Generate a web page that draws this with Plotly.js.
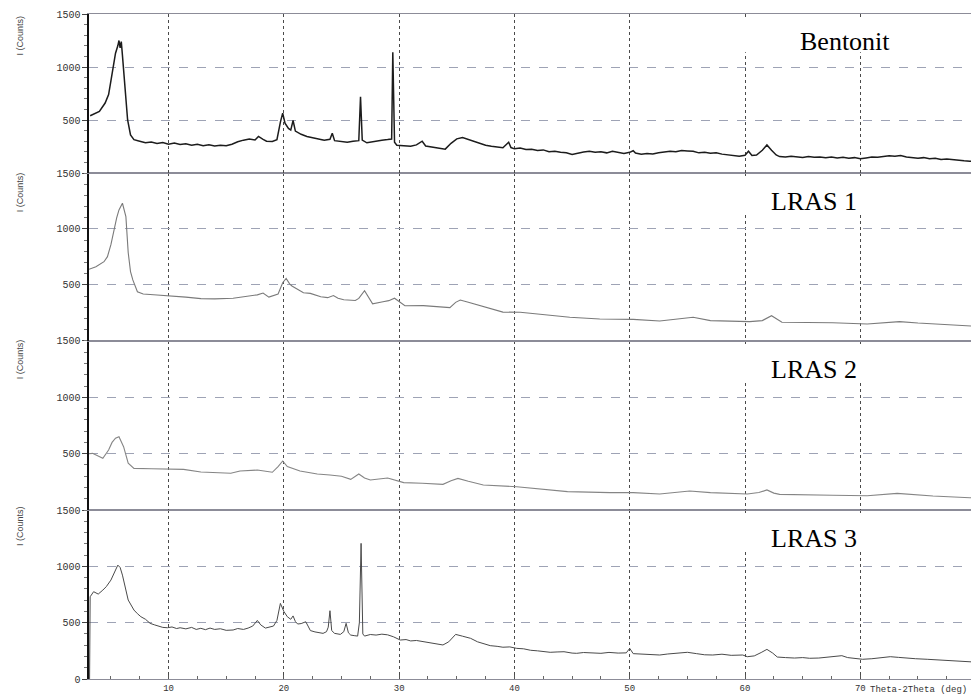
<!DOCTYPE html>
<html>
<head>
<meta charset="utf-8">
<script src="https://cdn.plot.ly/plotly-3.0.1.min.js"></script>
<style>html,body{margin:0;padding:0;background:#fff;}#chart{width:971px;height:696px;}</style>
</head>
<body>
<div id="chart"></div>
<script>
// ---- Data (2-theta in degrees, intensity in counts) ----
const panelNames = ["Bentonit", "LRAS 1", "LRAS 2", "LRAS 3"];
const axisTitle = "I (Counts)";
const xTitle = "Theta-2Theta (deg)";

const bentX = [3.2,3.5,4.0,4.5,4.8,5.0,5.2,5.4,5.6,5.7,5.8,5.9,6.0,6.2,6.45,6.7,7.0,7.5,8.0,8.5,9.0,9.5,10.0,10.5,11.0,11.5,12.0,12.5,13.0,13.5,14.0,14.5,15.0,15.5,16.0,16.5,17.0,17.5,17.8,18.2,18.5,19.0,19.4,19.7,19.9,20.1,20.4,20.6,20.8,21.0,21.5,22.0,22.5,23.0,23.5,24.0,24.2,24.4,25.0,25.5,26.0,26.5,26.65,26.8,27.2,27.5,28.0,28.5,29.0,29.35,29.45,29.6,29.8,30.5,31.0,31.5,32.0,32.3,33.0,33.5,34.0,34.5,35.0,35.5,36.0,36.5,37.0,37.5,38.0,38.5,39.0,39.5,39.7,40.0,40.5,41.0,41.5,42.0,42.5,43.0,43.5,44.0,44.5,45.0,45.5,46.0,46.5,47.0,47.5,48.0,48.5,49.0,49.5,50.0,50.3,50.5,51.0,51.5,52.0,52.5,53.0,53.5,54.0,54.5,55.0,55.5,56.0,56.5,57.0,57.5,58.0,58.5,59.0,59.5,60.0,60.3,60.6,61.0,61.5,61.9,62.3,62.7,63.0,63.5,64.0,64.5,65.0,65.5,66.0,66.5,67.0,67.5,68.0,68.5,69.0,69.5,70.0,70.5,71.0,71.5,72.0,72.5,73.0,73.5,74.0,74.5,75.0,75.5,76.0,76.5,77.0,77.5,78.0,78.5,79.0,79.5,80.0];
const bentY = [540,555,580,660,740,870,1000,1130,1200,1250,1180,1240,1110,830,500,360,315,300,285,292,278,288,272,282,268,276,262,270,258,266,255,262,258,272,295,310,320,312,345,318,300,298,315,480,565,470,420,405,495,395,365,345,335,325,310,318,375,305,295,290,300,305,720,310,285,292,298,310,315,320,1140,290,262,258,252,265,300,255,245,232,225,280,322,335,318,295,280,262,252,244,238,290,240,228,235,222,225,212,218,200,206,195,190,175,190,198,205,195,200,190,205,198,185,195,210,188,178,185,180,192,196,205,200,212,208,205,190,195,186,192,178,170,165,158,168,205,165,170,215,265,215,170,155,150,158,150,146,155,148,152,144,150,142,148,140,145,135,142,150,148,155,162,158,165,152,148,140,145,135,140,128,132,125,120,115,112,110];

const lras1X = [3.1,3.7,4.4,4.7,5.0,5.2,5.5,5.7,6.0,6.3,6.5,6.7,6.9,7.3,7.8,9.0,10.4,11.5,12.8,14.0,15.6,17.1,17.7,18.2,18.7,19.5,19.9,20.2,20.5,20.7,21.7,22.3,23.2,23.8,24.3,24.7,25.2,26.2,26.5,27.0,27.3,27.7,28.6,29.1,29.6,30.0,30.5,32.1,33.5,34.4,34.9,35.3,36.0,36.8,38.0,39.0,40.5,43.1,44.8,47.4,50.3,52.6,55.5,57.0,59.0,60.4,61.5,62.3,63.2,65.0,67.6,70.6,72.0,73.4,75.0,76.3,78.0,79.5,80.0];
const lras1Y = [640,663,708,753,860,962,1100,1170,1230,1110,790,620,545,440,420,410,402,392,378,376,381,408,412,428,392,420,520,558,510,491,431,425,395,387,406,382,368,362,380,449,400,332,351,360,382,350,315,316,305,298,345,366,345,321,290,258,256,232,212,196,193,179,212,182,176,173,182,226,167,168,163,152,160,173,160,152,142,134,132];

const lras2X = [3.1,3.4,4.3,4.8,5.1,5.4,5.7,6.1,6.5,7.0,8.5,9.9,11.3,12.8,14.0,15.4,16.2,17.7,19.0,19.5,19.9,20.3,21.4,22.9,24.0,25.0,25.8,26.5,27.0,27.5,29.0,30.4,32.0,33.8,34.5,35.1,36.0,37.3,40.2,42.5,44.6,48.3,50.3,52.6,55.2,57.0,60.2,61.2,61.9,62.5,63.0,67.6,70.6,73.2,76.3,79.5,80.0];
const lras2Y = [500,503,459,533,600,637,651,562,415,370,366,364,361,337,334,326,346,355,335,385,435,385,346,320,311,300,272,320,285,266,284,243,238,228,260,281,255,222,207,185,163,154,154,142,169,154,142,155,178,150,139,131,127,148,124,109,108];

const lras3X = [3.15,3.2,3.5,3.9,4.3,4.6,5.0,5.3,5.6,5.8,6.0,6.5,7.0,7.3,7.6,8.0,8.4,8.8,9.2,9.5,9.9,10.3,10.7,11.0,11.5,12.0,12.4,12.8,13.2,13.6,14.0,14.5,15.0,15.6,16.0,16.5,16.9,17.3,17.7,18.0,18.4,18.8,19.1,19.4,19.7,20.0,20.3,20.6,20.8,21.0,21.2,21.5,21.9,22.1,22.3,22.7,23.0,23.4,23.7,23.85,24.0,24.15,24.4,24.9,25.2,25.4,25.6,25.8,26.1,26.4,26.55,26.7,26.85,27.0,27.5,28.0,28.5,29.0,29.5,30.1,30.6,31.0,31.5,32.1,32.6,33.2,33.8,34.3,34.9,35.5,36.2,36.8,37.4,37.9,38.5,39.0,39.6,40.2,40.8,41.4,42.0,42.6,43.1,43.7,44.3,45.0,45.4,46.0,46.8,47.5,48.2,49.0,49.7,50.0,50.3,51.0,51.8,52.6,53.3,54.0,55.0,55.8,56.5,57.2,58.0,58.8,59.8,60.2,60.8,61.4,61.9,62.4,62.8,63.5,64.3,65.0,65.6,66.4,67.2,68.0,68.4,68.9,69.5,70.2,71.0,71.8,72.6,73.3,74.0,74.8,75.8,76.6,77.5,78.5,79.5,80.0];
const lras3Y = [0,730,775,754,789,820,878,950,1011,990,922,701,612,580,553,530,494,480,470,458,455,462,448,455,445,458,440,450,438,452,440,446,432,435,448,440,452,470,520,480,452,465,470,520,671,600,553,530,560,510,488,492,508,470,430,418,410,405,420,460,606,430,405,396,420,494,410,390,385,381,500,1204,400,381,395,390,398,392,375,346,350,338,342,331,325,315,302,330,396,380,361,330,310,296,290,282,285,272,268,255,250,245,237,240,242,230,228,235,233,228,236,230,232,272,225,220,214,213,222,230,237,225,215,213,220,210,213,198,205,235,263,230,195,190,186,190,184,186,195,200,207,190,180,175,180,188,198,192,185,180,175,170,165,158,153,150];

// ---- Layout geometry ----
const domains = [[0.7609, 1], [0.5083, 0.7609], [0.2541, 0.5083], [0, 0.2541]]; // top -> bottom
const lineColors = ["#1c1c1c", "#7a7a7a", "#858585", "#4a4a4a"];
const lineWidths = [1.5, 1.1, 1.1, 1.0];
const series = [[bentX, bentY], [lras1X, lras1Y], [lras2X, lras2Y], [lras3X, lras3Y]];

// panel index i (0=top) -> axis suffix
const suf = i => (i === 3 ? "" : String(4 - i));

const data = series.map((s, i) => ({
  x: s[0], y: s[1], type: "scatter", mode: "lines",
  xaxis: "x" + suf(i), yaxis: "y" + suf(i),
  line: { color: lineColors[i], width: lineWidths[i] },
  name: panelNames[i], hoverinfo: "x+y", showlegend: false
}));

const tickFont = { family: "Liberation Mono, DejaVu Sans Mono, monospace", size: 10, color: "#333" };

const layout = {
  width: 971, height: 696,
  margin: { l: 89, r: 0, t: 14, b: 17 },
  paper_bgcolor: "#fff", plot_bgcolor: "#fff",
  showlegend: false,
  shapes: [], annotations: []
};

for (let i = 0; i < 4; i++) {
  const s = suf(i);
  const isBottom = i === 3;
  layout["xaxis" + s] = {
    anchor: "y" + s,
    domain: [0, 1],
    range: [3.1, 79.6],
    tick0: 0, dtick: 10,
    showgrid: true, griddash: "dot", gridcolor: "#4a4a4a", gridwidth: 1,
    showline: true, mirror: true, linecolor: "#8c8c98", linewidth: 1,
    zeroline: false,
    showticklabels: isBottom,
    ticks: isBottom ? "inside" : "", ticklen: 4, tickcolor: "#555",
    tickfont: { family: tickFont.family, size: 9, color: "#333" },
    ticklabelstandoff: 0,
    minor: isBottom ? { dtick: 2.5, ticks: "inside", ticklen: 3, tickcolor: "#666", showgrid: false } : undefined,
    automargin: false, fixedrange: true
  };
  if (!isBottom) layout["xaxis" + s].matches = "x";
  layout["yaxis" + s] = {
    anchor: "x" + s,
    domain: domains[i],
    range: [0, 1500],
    tickvals: isBottom ? [0, 500, 1000, 1500] : [500, 1000, 1500],
    showgrid: true, griddash: "dash", gridcolor: "#9ea3b5", gridwidth: 1,
    showline: true, linecolor: "#111", linewidth: 1.6,
    zeroline: false,
    ticks: "outside", ticklen: 5, tickcolor: "#444",
    minor: { dtick: 100, ticks: "outside", ticklen: 3, tickcolor: "#777", showgrid: false },
    tickfont: tickFont,
    automargin: false, fixedrange: true
  };
  // white patch where the sample label sits (hides upper part of the 60/70 grid lines)
  layout.shapes.push({
    type: "rect", xref: "x" + s, yref: "y" + s, layer: "above",
    x0: 55, x1: 80, y0: 1140, y1: 1465,
    fillcolor: "#fff", line: { width: 0 }
  });
  // sample label
  layout.annotations.push({
    xref: "x" + s, yref: "y" + s, x: i === 0 ? 68.7 : 66.0, y: 1395,
    xanchor: "center", yanchor: "top", showarrow: false,
    text: panelNames[i],
    font: { family: "Liberation Serif, Times New Roman, serif", size: 26, color: "#000" }
  });
  // y-axis title per panel
  layout.annotations.push({
    xref: "paper", yref: "y" + s, x: -0.078, y: [1300, 1330, 1340, 1360][i],
    xanchor: "center", yanchor: "middle", showarrow: false, textangle: -90,
    text: axisTitle,
    font: { family: "Liberation Sans, Arial, sans-serif", size: 9, color: "#444" }
  });
}

layout.annotations.push({
  xref: "paper", yref: "paper", x: 0.998, y: -0.0165, xanchor: "right", yanchor: "middle",
  showarrow: false, text: xTitle,
  font: { family: "Liberation Mono, DejaVu Sans Mono, monospace", size: 9, color: "#333" }
});

Plotly.newPlot("chart", data, layout, { staticPlot: true, displayModeBar: false });
</script>
</body>
</html>
